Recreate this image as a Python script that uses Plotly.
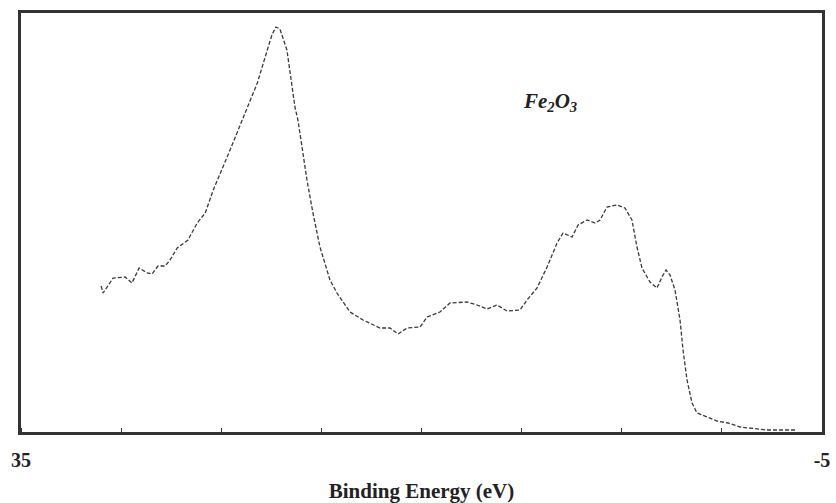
import plotly.graph_objects as go

# Binding energy (eV) and intensity (arbitrary units)
energy = [31.0, 30.9, 30.4, 30.05, 29.8, 29.46, 29.1, 28.7, 28.46, 28.16, 27.8, 27.56,
          27.2, 26.66, 26.2, 25.8, 25.4, 24.56, 23.9, 23.56, 23.2, 22.7, 22.47, 22.27,
          22.07, 21.72, 21.32, 21.17, 20.72, 20.42, 20.07, 19.57, 19.22, 18.57, 17.92,
          17.07, 16.57, 16.17, 15.72, 15.07, 14.72, 14.08, 13.58, 12.73, 12.23, 11.73,
          11.23, 10.73, 10.08, 9.73, 9.23, 8.73, 8.23, 7.93, 7.48, 7.18, 6.73, 6.33,
          6.08, 5.74, 5.24, 4.84, 4.49, 4.24, 3.99, 3.59, 3.24, 2.99, 2.79, 2.59, 2.34,
          2.09, 1.94, 1.74, 1.49, 1.24, 0.74, 0.24, -0.31, -0.91, -2.25, -3.75]
intensity = [146, 139, 154, 155, 155, 149, 164, 159, 158, 166, 166, 172,
             184, 192, 209, 219, 242, 282, 315, 332, 349, 382, 397, 405,
             403, 382, 325, 312, 252, 219, 185, 152, 139, 120, 112,
             104, 104, 98, 104, 105, 115, 120, 129, 130, 127, 123,
             127, 121, 122, 132, 144, 165, 189, 199, 195, 207, 212, 209,
             212, 225, 227, 224, 212, 185, 164, 150, 144, 155, 162, 157, 142,
             112, 82, 52, 29, 19, 15, 11, 9, 5, 2, 2]

tick_vals = [35, -5]
tick_text = ["<b>35</b>", "<b>-5</b>"]
minor_step = 5

fig = go.Figure()
fig.add_trace(go.Scatter(
    x=energy, y=intensity, mode="lines",
    line=dict(color="#3a3a3a", width=1.3, dash="4px,2px"),
    showlegend=False, hoverinfo="skip"))

fig.add_annotation(
    x=8.6, y=330, xref="x", yref="y",
    text="<i><b>Fe<sub>2</sub>O<sub>3</sub></b></i>",
    showarrow=False,
    font=dict(family="Liberation Serif", size=21, color="#222"))

fig.update_layout(
    width=836, height=503,
    margin=dict(l=21, r=14, t=13, b=71),
    paper_bgcolor="white", plot_bgcolor="white",
    font=dict(family="Liberation Serif", color="#222"),
    xaxis=dict(
        range=[35, -5], tickvals=tick_vals, ticktext=tick_text,
        ticks="", automargin=False,
        minor=dict(tick0=35, dtick=minor_step, ticks="inside", ticklen=4,
                   tickwidth=1, tickcolor="#333", showgrid=False),
        showline=True, linewidth=2.5, linecolor="#333", mirror=True,
        showgrid=False, zeroline=False,
        tickfont=dict(family="Liberation Serif", size=20, color="#222"),
        ticklabelstandoff=8,
        title=dict(text="<b>Binding Energy (eV)</b>",
                   font=dict(family="Liberation Serif", size=21, color="#222"),
                   standoff=16)),
    yaxis=dict(
        range=[0, 419], showticklabels=False, ticks="", automargin=False,
        showline=True, linewidth=2.5, linecolor="#333", mirror=True,
        showgrid=False, zeroline=False),
)

fig.write_html("out.html", config={"displayModeBar": False},
               post_script="document.body.style.margin='0';document.body.style.overflow='hidden';")
